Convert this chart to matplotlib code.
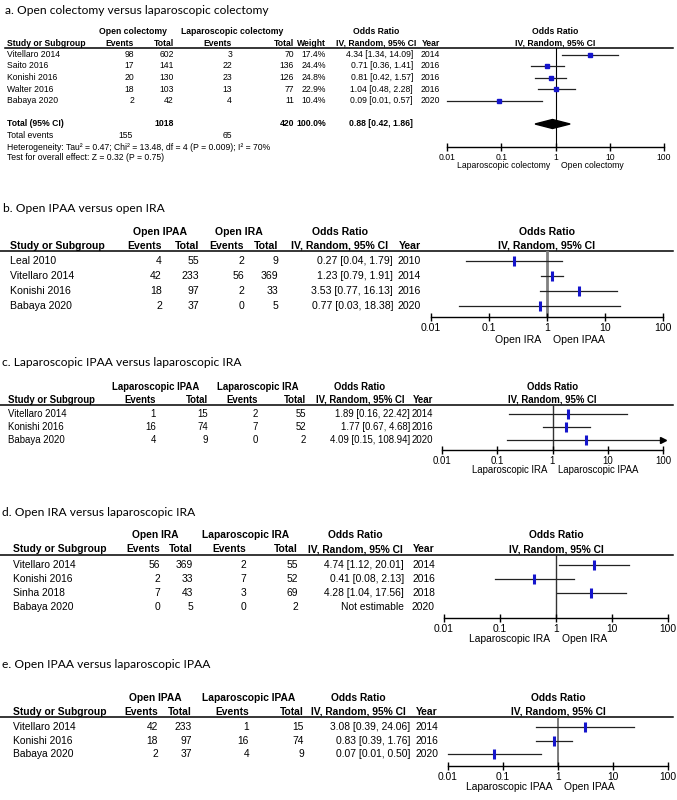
import matplotlib
matplotlib.use("Agg")
import matplotlib.pyplot as plt
import numpy as np
from matplotlib.patches import Polygon
from matplotlib.ticker import NullLocator

W, H = 677, 800
TITLE_FONT = "Lato"
TITLE_FS = 8.65
BLUE = "#1515cc"
plt.rcParams['font.family'] = ['Liberation Sans', 'DejaVu Sans']

# ---------------- data ----------------
# a. open vs laparoscopic colectomy
a_study = ["Vitellaro 2014", "Saito 2016", "Konishi 2016", "Walter 2016", "Babaya 2020"]
a_ev1 = [98, 17, 20, 18, 2]
a_tot1 = [602, 141, 130, 103, 42]
a_ev2 = [3, 22, 23, 13, 4]
a_tot2 = [70, 136, 126, 77, 11]
a_weight = [17.4, 24.4, 24.8, 22.9, 10.4]
a_or = [4.34, 0.71, 0.81, 1.04, 0.09]
a_lo = [1.34, 0.36, 0.42, 0.48, 0.01]
a_hi = [14.09, 1.41, 1.57, 2.28, 0.57]
a_year = [2014, 2016, 2016, 2016, 2020]
a_total_n = [1018, 420]
a_total_events = [155, 65]
a_pooled = [0.88, 0.42, 1.86]

# b. open IPAA vs open IRA
b_study = ["Leal 2010", "Vitellaro 2014", "Konishi 2016", "Babaya 2020"]
b_ev1 = [4, 42, 18, 2]
b_tot1 = [55, 233, 97, 37]
b_ev2 = [2, 56, 2, 0]
b_tot2 = [9, 369, 33, 5]
b_or = [0.27, 1.23, 3.53, 0.77]
b_lo = [0.04, 0.79, 0.77, 0.03]
b_hi = [1.79, 1.91, 16.13, 18.38]
b_year = [2010, 2014, 2016, 2020]

# c. laparoscopic IPAA vs laparoscopic IRA
c_study = ["Vitellaro 2014", "Konishi 2016", "Babaya 2020"]
c_ev1 = [1, 16, 4]
c_tot1 = [15, 74, 9]
c_ev2 = [2, 7, 0]
c_tot2 = [55, 52, 2]
c_or = [1.89, 1.77, 4.09]
c_lo = [0.16, 0.67, 0.15]
c_hi = [22.42, 4.68, 108.94]
c_year = [2014, 2016, 2020]

# d. open IRA vs laparoscopic IRA
d_study = ["Vitellaro 2014", "Konishi 2016", "Sinha 2018", "Babaya 2020"]
d_ev1 = [56, 2, 7, 0]
d_tot1 = [369, 33, 43, 5]
d_ev2 = [2, 7, 3, 0]
d_tot2 = [55, 52, 69, 2]
d_or = [4.74, 0.41, 4.28, None]
d_lo = [1.12, 0.08, 1.04, None]
d_hi = [20.01, 2.13, 17.56, None]
d_year = [2014, 2016, 2018, 2020]

# e. open IPAA vs laparoscopic IPAA
e_study = ["Vitellaro 2014", "Konishi 2016", "Babaya 2020"]
e_ev1 = [42, 18, 2]
e_tot1 = [233, 97, 37]
e_ev2 = [1, 16, 4]
e_tot2 = [15, 74, 9]
e_or = [3.08, 0.83, 0.07]
e_lo = [0.39, 0.39, 0.01]
e_hi = [24.06, 1.76, 0.50]
e_year = [2014, 2016, 2020]

ticks = [0.01, 0.1, 1, 10, 100]
tick_labels = ["0.01", "0.1", "1", "10", "100"]

# ---------------- layout (pixels, y from top) ----------------
LAY = {
    'a': dict(fs=6.2, title_x=5, title_y=11, h1=32, h2=43, line_y=48, line_x0=5,
              row0=54.5, dy=11.5, study_x=7, g1=133, ev1=134, tot1=174, g2=232, ev2=232, tot2=294,
              weight=326, orh=376, orx=413, yearx=440, fx0=447, fx1=664, axis_y=147, fav_y=166,
              vcol='black', vlw=0.8),
    'b': dict(fs=7.6, title_x=3, title_y=208, h1=232, h2=246, line_y=251, line_x0=0,
              row0=261, dy=15, study_x=10, g1=160, ev1=162, tot1=199, g2=239, ev2=244, tot2=278,
              orh=340, orx=393, yearx=421, fx0=431, fx1=663, axis_y=317, fav_y=340,
              vcol='#808080', vlw=2.0),
    'c': dict(fs=6.9, title_x=2, title_y=362, h1=387, h2=400, line_y=405, line_x0=0,
              row0=414, dy=13, study_x=8, g1=156, ev1=156, tot1=208, g2=258, ev2=258, tot2=306,
              orh=360, orx=410, yearx=433, fx0=442, fx1=663, axis_y=450, fav_y=470,
              vcol='#333333', vlw=1.0),
    'd': dict(fs=7.4, title_x=2, title_y=512, h1=535, h2=549, line_y=555, line_x0=0,
              row0=565, dy=14, study_x=13, g1=155, ev1=160, tot1=193, g2=246, ev2=246, tot2=298,
              orh=355, orx=404, yearx=435, fx0=444, fx1=668, axis_y=618, fav_y=639,
              vcol='#333333', vlw=1.0),
    'e': dict(fs=7.4, title_x=2, title_y=665, h1=698, h2=712, line_y=717, line_x0=0,
              row0=727, dy=13.5, study_x=13, g1=155, ev1=158, tot1=192, g2=249, ev2=249, tot2=304,
              orh=358, orx=410, yearx=438, fx0=448, fx1=668, axis_y=766, fav_y=787,
              vcol='#666666', vlw=1.2),
}

fig = plt.figure(figsize=(W / 100, H / 100), dpi=100)
canvas = fig.add_axes([0, 0, 1, 1])
canvas.set_xlim(0, W)
canvas.set_ylim(H, 0)
canvas.axis('off')


def txt(x, y, s, size, ha='left', bold=False, font=None):
    kw = {}
    if font:
        kw['family'] = font
    canvas.text(x, y, s, fontsize=size, ha=ha, va='center',
                fontweight='bold' if bold else 'normal', **kw)


def fmt_or(o, l, h):
    if o is None:
        return "Not estimable"
    return f"{o:.2f} [{l:.2f}, {h:.2f}]"


def panel(L, title, groups, favours, study, ev1, tot1, ev2, tot2, orr, lo, hi, year,
          weight=None):
    fs = L['fs']
    txt(L['title_x'], L['title_y'], title, TITLE_FS, font=TITLE_FONT)

    # headers
    txt(L['g1'], L['h1'], groups[0], fs, ha='center', bold=True)
    txt(L['g2'], L['h1'], groups[1], fs, ha='center', bold=True)
    txt(L['study_x'], L['h2'], "Study or Subgroup", fs, bold=True)
    txt(L['ev1'], L['h2'], "Events", fs, ha='right', bold=True)
    txt(L['tot1'], L['h2'], "Total", fs, ha='right', bold=True)
    txt(L['ev2'], L['h2'], "Events", fs, ha='right', bold=True)
    txt(L['tot2'], L['h2'], "Total", fs, ha='right', bold=True)
    if weight is not None:
        txt(L['weight'], L['h2'], "Weight", fs, ha='right', bold=True)
    txt(L['orh'], L['h1'], "Odds Ratio", fs, ha='center', bold=True)
    txt(L['orh'], L['h2'], "IV, Random, 95% CI", fs, ha='center', bold=True)
    txt(L['yearx'], L['h2'], "Year", fs, ha='right', bold=True)
    fc = (L['fx0'] + L['fx1']) / 2
    txt(fc, L['h1'], "Odds Ratio", fs, ha='center', bold=True)
    txt(fc, L['h2'], "IV, Random, 95% CI", fs, ha='center', bold=True)
    canvas.plot([L['line_x0'], 673], [L['line_y'], L['line_y']], color='black', lw=1.1)

    rows = [L['row0'] + i * L['dy'] for i in range(len(study))]
    for i, y in enumerate(rows):
        txt(L['study_x'], y, study[i], fs)
        txt(L['ev1'], y, str(ev1[i]), fs, ha='right')
        txt(L['tot1'], y, str(tot1[i]), fs, ha='right')
        txt(L['ev2'], y, str(ev2[i]), fs, ha='right')
        txt(L['tot2'], y, str(tot2[i]), fs, ha='right')
        if weight is not None:
            txt(L['weight'], y, f"{weight[i]:.1f}%", fs, ha='right')
        txt(L['orx'], y, fmt_or(orr[i], lo[i], hi[i]), fs, ha='right')
        txt(L['yearx'], y, str(year[i]), fs, ha='right')

    # forest plot axes: data y == pixel y
    ax = fig.add_axes([L['fx0'] / W, 1 - L['axis_y'] / H, (L['fx1'] - L['fx0']) / W,
                       (L['axis_y'] - L['line_y']) / H])
    ax.set_xscale('log')
    ax.set_xlim(0.01, 100)
    ax.set_ylim(L['axis_y'], L['line_y'])
    ax.patch.set_visible(False)
    for s in ['top', 'left', 'right']:
        ax.spines[s].set_visible(False)
    ax.spines['bottom'].set_linewidth(1.0)
    ax.set_yticks([])
    ax.set_xticks(ticks)
    ax.set_xticklabels(tick_labels)
    ax.xaxis.set_minor_locator(NullLocator())
    ax.tick_params(axis='x', direction='inout', length=6, width=1, labelsize=fs, pad=1)
    ax.axvline(1, color=L['vcol'], lw=L['vlw'], zorder=1)

    for i, y in enumerate(rows):
        if orr[i] is None:
            continue
        top = min(hi[i], 100)
        ax.plot([lo[i], top], [y, y], color='#222222', lw=0.9, zorder=2, clip_on=False)
        if hi[i] > 100:
            ax.plot([100], [y], marker='>', color='black', ms=4, clip_on=False, zorder=3)
        if weight is not None:
            ax.plot([orr[i]], [y], marker='s', ms=0.68 * np.sqrt(weight[i]), color=BLUE,
                    mec=BLUE, zorder=4)
        else:
            ax.plot([orr[i]], [y], marker='|', ms=7, mew=2.2, color=BLUE, zorder=4)

    ax.annotate(favours[0], xy=(1, L['fav_y']), xytext=(-4, 0), textcoords='offset points',
                ha='right', va='center', fontsize=fs, annotation_clip=False)
    ax.annotate(favours[1], xy=(1, L['fav_y']), xytext=(4, 0), textcoords='offset points',
                ha='left', va='center', fontsize=fs, annotation_clip=False)
    return ax


ax_a = panel(LAY['a'], "a. Open colectomy versus laparoscopic colectomy",
             ["Open colectomy", "Laparoscopic colectomy"],
             ["Laparoscopic colectomy", "Open colectomy"],
             a_study, a_ev1, a_tot1, a_ev2, a_tot2, a_or, a_lo, a_hi, a_year, weight=a_weight)

# totals for panel a
La = LAY['a']
fs = La['fs']
ty = 124
txt(La['study_x'], ty, "Total (95% CI)", fs, bold=True)
txt(La['tot1'], ty, str(a_total_n[0]), fs, ha='right', bold=True)
txt(La['tot2'], ty, str(a_total_n[1]), fs, ha='right', bold=True)
txt(La['weight'], ty, "100.0%", fs, ha='right', bold=True)
txt(La['orx'], ty, fmt_or(*a_pooled), fs, ha='right', bold=True)
txt(La['study_x'], 136, "Total events", fs)
txt(La['ev1'] - 1, 136, str(a_total_events[0]), fs, ha='right')
txt(La['ev2'], 136, str(a_total_events[1]), fs, ha='right')
txt(La['study_x'], 147, "Heterogeneity: Tau\u00b2 = 0.47; Chi\u00b2 = 13.48, df = 4 (P = 0.009); I\u00b2 = 70%", fs)
txt(La['study_x'], 158, "Test for overall effect: Z = 0.32 (P = 0.75)", fs)
o, l, h = a_pooled
ax_a.add_patch(Polygon([[l, ty], [o, ty - 4.5], [h, ty], [o, ty + 4.5]], closed=True,
                       color='black', zorder=4))

panel(LAY['b'], "b. Open IPAA versus open IRA", ["Open IPAA", "Open IRA"],
      ["Open IRA", "Open IPAA"],
      b_study, b_ev1, b_tot1, b_ev2, b_tot2, b_or, b_lo, b_hi, b_year)
panel(LAY['c'], "c. Laparoscopic IPAA versus laparoscopic IRA",
      ["Laparoscopic IPAA", "Laparoscopic IRA"], ["Laparoscopic IRA", "Laparoscopic IPAA"],
      c_study, c_ev1, c_tot1, c_ev2, c_tot2, c_or, c_lo, c_hi, c_year)
panel(LAY['d'], "d. Open IRA versus laparoscopic IRA", ["Open IRA", "Laparoscopic IRA"],
      ["Laparoscopic IRA", "Open IRA"],
      d_study, d_ev1, d_tot1, d_ev2, d_tot2, d_or, d_lo, d_hi, d_year)
panel(LAY['e'], "e. Open IPAA versus laparoscopic IPAA", ["Open IPAA", "Laparoscopic IPAA"],
      ["Laparoscopic IPAA", "Open IPAA"],
      e_study, e_ev1, e_tot1, e_ev2, e_tot2, e_or, e_lo, e_hi, e_year)

fig.savefig("out.png", dpi=100)
